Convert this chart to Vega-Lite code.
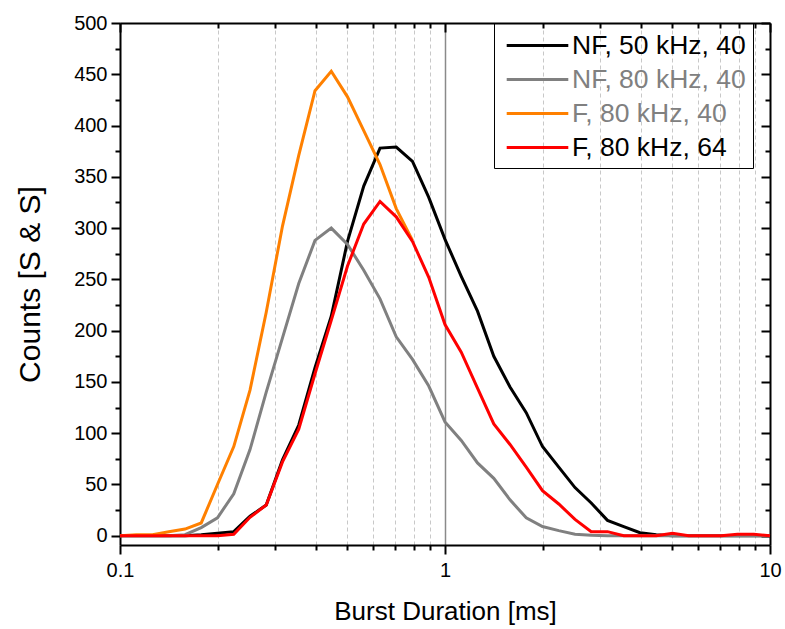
{
  "$schema": "https://vega.github.io/schema/vega-lite/v6.json",
  "width": 650,
  "height": 522,
  "autosize": "none",
  "padding": {"left": 120, "top": 23, "right": 15, "bottom": 84},
  "background": "white",
  "config": {
    "font": "Liberation Sans",
    "view": {"stroke": null},
    "axis": {
      "domainColor": "black",
      "domainWidth": 2,
      "tickColor": "black",
      "tickWidth": 2,
      "labelColor": "black",
      "titleColor": "black",
      "labelFont": "Liberation Sans",
      "titleFont": "Liberation Sans",
      "labelFontSize": 20,
      "titleFontSize": 26,
      "titleFontWeight": "normal"
    }
  },
  "data": {
    "values": [
      {"d": 0.1, "NF, 50 kHz, 40": 0, "NF, 80 kHz, 40": 0, "F, 80 kHz, 40": 0, "F, 80 kHz, 64": 0},
      {"d": 0.1122, "NF, 50 kHz, 40": 0, "NF, 80 kHz, 40": 0, "F, 80 kHz, 40": 1, "F, 80 kHz, 64": 0},
      {"d": 0.1259, "NF, 50 kHz, 40": 0, "NF, 80 kHz, 40": 0, "F, 80 kHz, 40": 1, "F, 80 kHz, 64": 0},
      {"d": 0.1413, "NF, 50 kHz, 40": 0, "NF, 80 kHz, 40": 0, "F, 80 kHz, 40": 4, "F, 80 kHz, 64": 0},
      {"d": 0.1585, "NF, 50 kHz, 40": 0, "NF, 80 kHz, 40": 1, "F, 80 kHz, 40": 6.5, "F, 80 kHz, 64": 0},
      {"d": 0.1778, "NF, 50 kHz, 40": 1, "NF, 80 kHz, 40": 8, "F, 80 kHz, 40": 12.5, "F, 80 kHz, 64": 0},
      {"d": 0.1995, "NF, 50 kHz, 40": 2.5, "NF, 80 kHz, 40": 17.5, "F, 80 kHz, 40": 50, "F, 80 kHz, 64": 0},
      {"d": 0.2239, "NF, 50 kHz, 40": 4, "NF, 80 kHz, 40": 41, "F, 80 kHz, 40": 87, "F, 80 kHz, 64": 1.5},
      {"d": 0.2512, "NF, 50 kHz, 40": 19, "NF, 80 kHz, 40": 84, "F, 80 kHz, 40": 142, "F, 80 kHz, 64": 18},
      {"d": 0.2818, "NF, 50 kHz, 40": 30, "NF, 80 kHz, 40": 140, "F, 80 kHz, 40": 218, "F, 80 kHz, 64": 30},
      {"d": 0.3162, "NF, 50 kHz, 40": 74, "NF, 80 kHz, 40": 193, "F, 80 kHz, 40": 302, "F, 80 kHz, 64": 72},
      {"d": 0.3548, "NF, 50 kHz, 40": 108, "NF, 80 kHz, 40": 246, "F, 80 kHz, 40": 371, "F, 80 kHz, 64": 104},
      {"d": 0.3981, "NF, 50 kHz, 40": 164, "NF, 80 kHz, 40": 288, "F, 80 kHz, 40": 434, "F, 80 kHz, 64": 158},
      {"d": 0.4467, "NF, 50 kHz, 40": 214, "NF, 80 kHz, 40": 300, "F, 80 kHz, 40": 453, "F, 80 kHz, 64": 210},
      {"d": 0.5012, "NF, 50 kHz, 40": 287, "NF, 80 kHz, 40": 284, "F, 80 kHz, 40": 428, "F, 80 kHz, 64": 263},
      {"d": 0.5623, "NF, 50 kHz, 40": 341, "NF, 80 kHz, 40": 259, "F, 80 kHz, 40": 395, "F, 80 kHz, 64": 304},
      {"d": 0.631, "NF, 50 kHz, 40": 378, "NF, 80 kHz, 40": 231, "F, 80 kHz, 40": 362, "F, 80 kHz, 64": 326},
      {"d": 0.7079, "NF, 50 kHz, 40": 379, "NF, 80 kHz, 40": 194, "F, 80 kHz, 40": 319, "F, 80 kHz, 64": 311},
      {"d": 0.7943, "NF, 50 kHz, 40": 365, "NF, 80 kHz, 40": 172, "F, 80 kHz, 40": 288, "F, 80 kHz, 64": 287},
      {"d": 0.8913, "NF, 50 kHz, 40": 330, "NF, 80 kHz, 40": 146, "F, 80 kHz, 64": 252},
      {"d": 1.0, "NF, 50 kHz, 40": 289, "NF, 80 kHz, 40": 111, "F, 80 kHz, 64": 206},
      {"d": 1.122, "NF, 50 kHz, 40": 253, "NF, 80 kHz, 40": 93, "F, 80 kHz, 64": 179},
      {"d": 1.259, "NF, 50 kHz, 40": 219, "NF, 80 kHz, 40": 71, "F, 80 kHz, 64": 144},
      {"d": 1.413, "NF, 50 kHz, 40": 175, "NF, 80 kHz, 40": 56, "F, 80 kHz, 64": 109},
      {"d": 1.585, "NF, 50 kHz, 40": 145, "NF, 80 kHz, 40": 35, "F, 80 kHz, 64": 89},
      {"d": 1.778, "NF, 50 kHz, 40": 120, "NF, 80 kHz, 40": 17.5, "F, 80 kHz, 64": 67},
      {"d": 1.995, "NF, 50 kHz, 40": 87, "NF, 80 kHz, 40": 9, "F, 80 kHz, 64": 44},
      {"d": 2.239, "NF, 50 kHz, 40": 67, "NF, 80 kHz, 40": 5, "F, 80 kHz, 64": 31},
      {"d": 2.512, "NF, 50 kHz, 40": 47, "NF, 80 kHz, 40": 1.5, "F, 80 kHz, 64": 16},
      {"d": 2.818, "NF, 50 kHz, 40": 32, "NF, 80 kHz, 40": 0.5, "F, 80 kHz, 64": 4},
      {"d": 3.162, "NF, 50 kHz, 40": 15, "NF, 80 kHz, 40": 0, "F, 80 kHz, 64": 4},
      {"d": 3.548, "NF, 50 kHz, 40": 9, "NF, 80 kHz, 40": 0, "F, 80 kHz, 64": 0},
      {"d": 3.981, "NF, 50 kHz, 40": 3, "NF, 80 kHz, 40": 0, "F, 80 kHz, 64": 0},
      {"d": 4.467, "NF, 50 kHz, 40": 1, "NF, 80 kHz, 40": 0, "F, 80 kHz, 64": 0},
      {"d": 5.012, "NF, 50 kHz, 40": 0, "NF, 80 kHz, 40": 0, "F, 80 kHz, 64": 2.5},
      {"d": 5.623, "NF, 50 kHz, 40": 0, "NF, 80 kHz, 40": 0, "F, 80 kHz, 64": 0},
      {"d": 6.31, "NF, 50 kHz, 40": 0, "NF, 80 kHz, 40": 0, "F, 80 kHz, 64": 0},
      {"d": 7.079, "NF, 50 kHz, 40": 0, "NF, 80 kHz, 40": 0, "F, 80 kHz, 64": 0},
      {"d": 7.943, "NF, 50 kHz, 40": 0, "NF, 80 kHz, 40": 0, "F, 80 kHz, 64": 1.5},
      {"d": 8.913, "NF, 50 kHz, 40": 0, "NF, 80 kHz, 40": 0, "F, 80 kHz, 64": 1.5},
      {"d": 10.0, "NF, 50 kHz, 40": 0, "NF, 80 kHz, 40": 0, "F, 80 kHz, 64": 0}
    ]
  },
  "transform": [
    {"fold": ["NF, 50 kHz, 40", "NF, 80 kHz, 40", "F, 80 kHz, 40", "F, 80 kHz, 64"], "as": ["series", "count"]},
    {"filter": "isValid(datum.count)"}
  ],
  "layer": [
    {
      "mark": {"type": "line", "strokeWidth": 3, "strokeJoin": "miter"},
      "encoding": {
        "x": {
          "field": "d", "type": "quantitative",
          "scale": {"type": "log", "domain": [0.1, 10], "nice": false},
          "axis": {
            "orient": "bottom",
            "title": "Burst Duration [ms]",
            "values": [0.1, 0.2, 0.3, 0.4, 0.5, 0.6, 0.7, 0.8, 0.9, 1, 2, 3, 4, 5, 6, 7, 8, 9, 10],
            "format": "~g",
            "labelExpr": "(datum.value == 0.1 || datum.value == 1 || datum.value == 10) ? datum.label : ''",
            "labelPadding": 6,
            "labelFlush": false,
            "labelOverlap": false,
            "tickSize": {"condition": {"test": "datum.value == 0.1 || datum.value == 1 || datum.value == 10", "value": 9}, "value": 5},
            "grid": true,
            "gridDash": {"condition": {"test": "datum.value == 1", "value": []}, "value": [4, 3]},
            "gridColor": {"condition": {"test": "datum.value == 1", "value": "#8a8a8a"}, "value": "#c8c8c8"},
            "gridWidth": {"condition": {"test": "datum.value == 1", "value": 1.5}, "value": 1},
            "titlePadding": 18
          }
        },
        "y": {
          "field": "count", "type": "quantitative",
          "scale": {"domain": [-9, 500], "nice": false, "zero": false},
          "axis": {
            "orient": "left",
            "title": "Counts [S & S]",
            "titleFontSize": 30,
            "values": [0, 25, 50, 75, 100, 125, 150, 175, 200, 225, 250, 275, 300, 325, 350, 375, 400, 425, 450, 475, 500],
            "labelExpr": "datum.value % 50 == 0 ? datum.label : ''",
            "labelPadding": 4,
            "labelFlush": false,
            "labelOverlap": false,
            "tickSize": {"condition": {"test": "datum.value % 50 == 0", "value": 9}, "value": 5},
            "grid": false,
            "titlePadding": 28
          }
        },
        "color": {
          "field": "series", "type": "nominal",
          "scale": {
            "domain": ["NF, 50 kHz, 40", "NF, 80 kHz, 40", "F, 80 kHz, 40", "F, 80 kHz, 64"],
            "range": ["#000000", "#808080", "#ff8000", "#ff0000"]
          },
          "legend": {
            "title": null,
            "orient": "none",
            "legendX": 374,
            "legendY": 0,
            "strokeColor": "black",
            "padding": 7,
            "labelFont": "Liberation Sans",
            "labelFontSize": 26.5,
            "labelOffset": 19,
            "labelLimit": 400,
            "rowPadding": 5,
            "symbolType": "M-2.2,0H2.2",
            "symbolSize": 784,
            "symbolStrokeWidth": 3,
            "symbolOffset": 21,
            "encode": {
              "labels": {
                "update": {
                  "fill": {"signal": "(datum.value == 'NF, 80 kHz, 40' || datum.value == 'F, 80 kHz, 40') ? '#808080' : '#000000'"}
                }
              }
            }
          }
        }
      }
    },
    {
      "mark": {"type": "point", "opacity": 0},
      "encoding": {
        "x": {
          "field": "d", "type": "quantitative",
          "axis": {
            "orient": "top",
            "title": null,
            "labels": false,
            "grid": false,
            "values": [0.1, 0.2, 0.3, 0.4, 0.5, 0.6, 0.7, 0.8, 0.9, 1, 2, 3, 4, 5, 6, 7, 8, 9, 10],
            "tickSize": {"condition": {"test": "datum.value == 0.1 || datum.value == 1 || datum.value == 10", "value": -9}, "value": -5}
          }
        },
        "y": {
          "field": "count", "type": "quantitative",
          "axis": {
            "orient": "right",
            "title": null,
            "labels": false,
            "grid": false,
            "values": [0, 25, 50, 75, 100, 125, 150, 175, 200, 225, 250, 275, 300, 325, 350, 375, 400, 425, 450, 475, 500],
            "tickSize": {"condition": {"test": "datum.value % 50 == 0", "value": -9}, "value": -5}
          }
        }
      }
    }
  ],
  "resolve": {"axis": {"x": "independent", "y": "independent"}}
}
